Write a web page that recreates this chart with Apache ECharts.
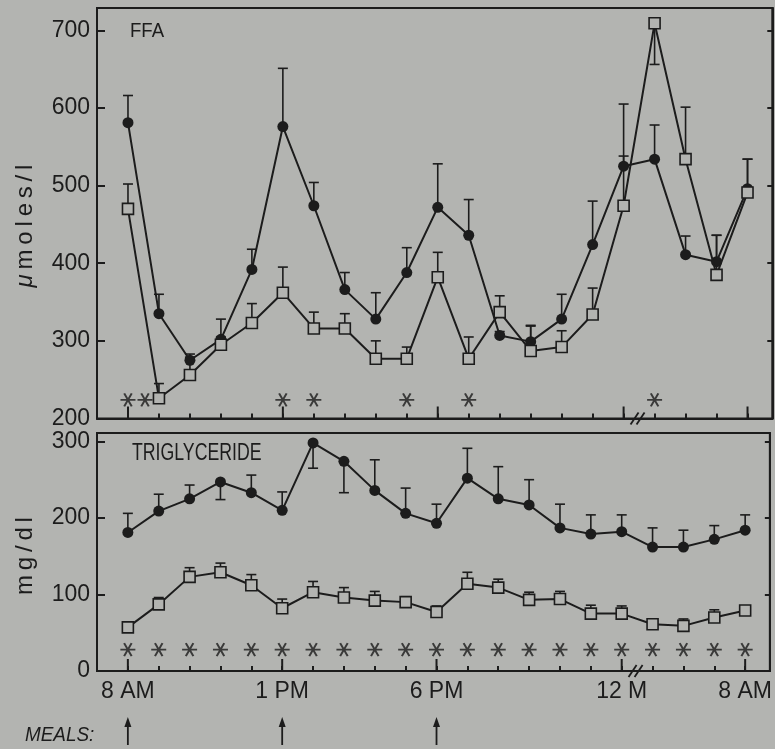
<!DOCTYPE html>
<html><head><meta charset="utf-8">
<script src="https://cdn.jsdelivr.net/npm/echarts@6/dist/echarts.min.js"></script>
<style>html,body{margin:0;padding:0;background:#b3b4b1;} #c{width:775px;height:749px;}</style>
</head><body><div id="c"></div>
<script>
// ---- data ----
const xLabels = ['8 AM','','','','','1 PM','','','','','6 PM','','','','','','12 M','','','','8 AM'];
const majorTickIdx = [0, 5, 10, 16, 20];
const mealIdx = [0, 5, 10];
const breakIdx = [16.45];

const ffaCircle    = [581, 335, 275, 302, 392, 576, 474, 366, 328, 388, 472, 436, 307, 299, 328, 424, 525, 534, 411, 402, 496];
const ffaCircleErr = [616, 360, 283, 328, 418, 651, 504, 388, 362, 420, 528, 482, 312, 320, 360, 480, 605, 578, 435, 436, 534];
const ffaSquare    = [470, 226, 256, 295, 323, 362, 316, 316, 277, 277, 382, 277, 337, 287, 292, 334, 474, 709, 534, 385, 491];
const ffaSquareErr = [502, 245, 279, 305, 348, 395, 337, 335, 300, 292, 414, 305, 358, 319, 313, 368, 538, 656, 601, 436, 534];
const ffaStarIdx   = [0, 0.55, 5, 6, 9, 11, 17];

const tgCircle    = [181, 209, 225, 247, 233, 210, 298, 274, 236, 206, 193, 252, 225, 217, 187, 179, 182, 162, 162, 172, 184];
const tgCircleErr = [206, 231, 243, 224, 256, 234, 265, 233, 276, 239, 218, 291, 267, 250, 218, 204, 204, 187, 184, 190, 204];
const tgSquare    = [57, 87, 123, 129, 112, 82, 103, 96, 92, 90, 77, 114, 109, 93, 94, 75, 75, 61, 59, 70, 79];
const tgSquareErr = [57, 96, 135, 141, 126, 94, 117, 109, 104, 97, 85, 129, 120, 103, 104, 86, 85, 68, 68, 80, 79];
const tgStarIdx   = [0,1,2,3,4,5,6,7,8,9,10,11,12,13,14,15,16,17,18,19,20];

// ---- style ----
const INK = '#1c1c1c';
const BG = '#b3b4b1';
const REG = '"Liberation Sans",Arial,sans-serif';

function hasFont(name) {
  const c = document.createElement('canvas').getContext('2d');
  const s = 'mmmmmmmmmmlli0123456789WWAA';
  c.font = '40px monospace'; const a = c.measureText(s).width;
  c.font = '40px "' + name + '", monospace'; const b = c.measureText(s).width;
  c.font = '40px serif'; const a2 = c.measureText(s).width;
  c.font = '40px "' + name + '", serif'; const b2 = c.measureText(s).width;
  return a !== b || a2 !== b2;
}
const narrowOK = hasFont('Liberation Sans Narrow');
const TICK_FONT = narrowOK ? '"Liberation Sans Narrow",sans-serif' : REG;
const TICK_SIZE = narrowOK ? 26 : 23;

const chart = echarts.init(document.getElementById('c'), null, {renderer: 'canvas'});

function xAxisDef(gi, showLabels) {
  return {
    gridIndex: gi, type: 'value', min: -1, max: 20.8, interval: 1,
    axisLine: {onZero: false, lineStyle: {color: INK, width: 2}},
    axisTick: {inside: true, length: 5, lineStyle: {color: INK, width: 2}},
    splitLine: {show: false},
    axisLabel: {
      show: showLabels, showMaxLabel: false, showMinLabel: false,
      margin: 9, color: INK, fontFamily: TICK_FONT, fontSize: TICK_SIZE,
      formatter: v => (Number.isInteger(v) && xLabels[v]) ? xLabels[v] : ''
    }
  };
}
function yAxisDef(gi, min, max, right) {
  return {
    gridIndex: gi, type: 'value', min: min, max: max, interval: 100,
    position: right ? 'right' : 'left',
    axisLine: {show: true, onZero: false, lineStyle: {color: INK, width: 2}},
    axisTick: {show: true, inside: true, length: right ? 5 : 8, lineStyle: {color: INK, width: 2}},
    splitLine: {show: false},
    axisLabel: {
      show: !right, margin: 7, color: INK, fontFamily: TICK_FONT, fontSize: TICK_SIZE,
      formatter: v => (Math.abs(v % 100) < 1e-6) ? String(v) : ''
    }
  };
}
function errSeries(xi, yi, vals, errs) {
  return {
    type: 'custom', xAxisIndex: xi, yAxisIndex: yi, z: 1, silent: true,
    data: vals.map((v, i) => [i, v, errs[i]]),
    renderItem: (params, api) => {
      if (api.value(2) === api.value(1)) return null;
      const p0 = api.coord([api.value(0), api.value(1)]);
      const p1 = api.coord([api.value(0), api.value(2)]);
      return {type: 'group', children: [
        {type: 'line', shape: {x1: p0[0], y1: p0[1], x2: p1[0], y2: p1[1]}, style: {stroke: INK, lineWidth: 1.6}},
        {type: 'line', shape: {x1: p1[0] - 5, y1: p1[1], x2: p1[0] + 5, y2: p1[1]}, style: {stroke: INK, lineWidth: 1.6}}
      ]};
    }
  };
}
function lineSeries(xi, yi, vals, filled) {
  return {
    type: 'line', xAxisIndex: xi, yAxisIndex: yi, z: filled ? 3 : 4,
    data: vals.map((v, i) => [i, v]),
    symbol: filled ? 'circle' : 'rect', symbolSize: 11,
    showAllSymbol: true,
    lineStyle: {color: INK, width: 2},
    itemStyle: filled ? {color: INK} : {color: BG, borderColor: INK, borderWidth: 1.6},
    emphasis: {disabled: true}
  };
}
const STAR = 'path://M-1,0L1,0M-0.5,-0.866L0.5,0.866M-0.5,0.866L0.5,-0.866';
function starSeries(xi, yi, idx, yv) {
  return {
    type: 'scatter', xAxisIndex: xi, yAxisIndex: yi, z: 5, silent: true,
    data: idx.map(i => [i, yv]),
    symbol: STAR, symbolSize: [15, 13],
    itemStyle: {color: 'rgba(0,0,0,0)', borderColor: INK, borderWidth: 1.9}
  };
}
function majorTickSeries(xi, yi, base) {
  return {
    type: 'custom', xAxisIndex: xi, yAxisIndex: yi, z: 2, silent: true,
    data: majorTickIdx.map(i => [i, base]),
    renderItem: (params, api) => {
      const p = api.coord([api.value(0), api.value(1)]);
      return {type: 'line', shape: {x1: p[0], y1: p[1], x2: p[0], y2: p[1] - 12}, style: {stroke: INK, lineWidth: 2}};
    }
  };
}
function breakSeries(xi, yi, base) {
  return {
    type: 'custom', xAxisIndex: xi, yAxisIndex: yi, z: 6, silent: true, clip: false,
    data: breakIdx.map(i => [i, base]),
    renderItem: (params, api) => {
      const p = api.coord([api.value(0), api.value(1)]);
      const mk = dx => ({type: 'line', shape: {x1: p[0] + dx - 4, y1: p[1] + 6, x2: p[0] + dx + 4, y2: p[1] - 6}, style: {stroke: INK, lineWidth: 1.8}});
      return {type: 'group', children: [mk(-3), mk(3)]};
    }
  };
}
const arrowSeries = {
  type: 'custom', xAxisIndex: 1, yAxisIndex: 2, z: 6, silent: true, clip: false,
  data: mealIdx.map(i => [i, 0]),
  renderItem: (params, api) => {
    const p = api.coord([api.value(0), api.value(1)]);
    return {type: 'group', children: [
      {type: 'line', shape: {x1: p[0], y1: p[1] + 52, x2: p[0], y2: p[1] + 74}, style: {stroke: INK, lineWidth: 1.8}},
      {type: 'polygon', shape: {points: [[p[0], p[1] + 46], [p[0] - 3.5, p[1] + 56], [p[0] + 3.5, p[1] + 56]]}, style: {fill: INK}}
    ]};
  }
};

const option = {
  backgroundColor: BG,
  animation: false,
  grid: [
    {left: 97, top: 8, width: 675.3, height: 410.5, show: true, borderColor: INK, borderWidth: 2, backgroundColor: 'transparent'},
    {left: 97, top: 433, width: 675.3, height: 238, show: true, borderColor: INK, borderWidth: 2, backgroundColor: 'transparent'}
  ],
  xAxis: [xAxisDef(0, false), xAxisDef(1, true)],
  yAxis: [yAxisDef(0, 200, 728.7, false), yAxisDef(0, 200, 728.7, true), yAxisDef(1, 0, 311, false), yAxisDef(1, 0, 311, true)],
  series: [
    errSeries(0, 0, ffaCircle, ffaCircleErr),
    errSeries(0, 0, ffaSquare, ffaSquareErr),
    lineSeries(0, 0, ffaCircle, true),
    lineSeries(0, 0, ffaSquare, false),
    starSeries(0, 0, ffaStarIdx, 224),
    majorTickSeries(0, 0, 200),
    breakSeries(0, 0, 200),
    errSeries(1, 2, tgCircle, tgCircleErr),
    errSeries(1, 2, tgSquare, tgSquareErr),
    lineSeries(1, 2, tgCircle, true),
    lineSeries(1, 2, tgSquare, false),
    starSeries(1, 2, tgStarIdx, 28),
    majorTickSeries(1, 2, 0),
    breakSeries(1, 2, 0),
    arrowSeries
  ],
  graphic: [
    {type: 'text', x: 130, y: 21, scaleX: 0.93, style: {text: 'FFA', fill: INK, font: '20px ' + REG, textVerticalAlign: 'top'}},
    {type: 'text', x: 132, y: 442, scaleX: 0.77, style: {text: 'TRIGLYCERIDE', fill: INK, font: '23px ' + REG, textVerticalAlign: 'top'}},
    {type: 'text', x: 25, y: 725, scaleX: 0.9, style: {text: 'MEALS:', fill: INK, font: 'italic 21px ' + REG, textVerticalAlign: 'top'}},
    {type: 'text', x: 25, y: 226, rotation: Math.PI / 2,
     style: {text: '{i|\u03bc}\u2009m\u2009o\u2009l\u2009e\u2009s\u2009/\u2009l', textAlign: 'center', textVerticalAlign: 'middle', fill: INK, font: '24px ' + REG,
             rich: {i: {fontStyle: 'italic', fontSize: 24, fontFamily: REG, fill: INK}}}},
    {type: 'text', x: 25, y: 556, rotation: Math.PI / 2,
     style: {text: 'm\u2009g\u2009/\u2009d\u2009l', textAlign: 'center', textVerticalAlign: 'middle', fill: INK, font: '24px ' + REG}}
  ]
};
chart.setOption(option);
</script>
</body></html>
